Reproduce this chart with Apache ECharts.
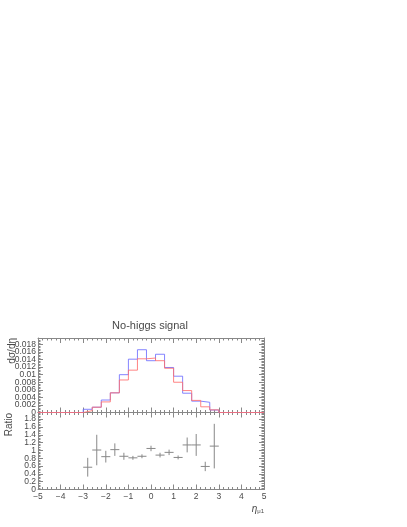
<!DOCTYPE html>
<html>
<head>
<meta charset="utf-8">
<script src="https://cdn.jsdelivr.net/npm/echarts@6/dist/echarts.min.js"></script>
<style>html,body{margin:0;padding:0;background:#fff;}#c{width:407px;height:527px;}</style>
</head>
<body>
<div id="c"></div>
<script>
// ---- data ----
const binEdges = [-5.0,-4.6,-4.2,-3.8,-3.4,-3.0,-2.6,-2.2,-1.8,-1.4,-1.0,-0.6,-0.2,0.2,0.6,1.0,1.4,1.8,2.2,2.6,3.0,3.4,3.8,4.2,4.6,5.0];
const blueHist = [0,0,0,0,0, 0.00085,0.0014,0.0033,0.0052,0.0100,0.0141,0.0166,0.0137,0.0154,0.0119,0.0096,0.0051,0.0030,0.0027,0.00066, 0,0,0,0,0];
const redHist  = [0,0,0,0,0, 0.00048,0.0014,0.0028,0.0052,0.0086,0.0112,0.0142,0.0144,0.0137,0.0117,0.0080,0.0058,0.0032,0.0015,0.00070, 0,0,0,0,0];
const ratioX   = [-2.8,-2.4,-2.0,-1.6,-1.2,-0.8,-0.4,0.0,0.4,0.8,1.2,1.6,2.0,2.4,2.8];
const ratioY   = [0.57,1.01,0.84,1.02,0.85,0.81,0.85,1.05,0.88,0.95,0.82,1.14,1.14,0.59,1.11];
const ratioErr = [0.24,0.39,0.15,0.16,0.09,0.05,0.05,0.07,0.06,0.07,0.05,0.19,0.28,0.12,0.57];
const titleText = 'No-higgs signal';

// ---- build ----
function stepData(vals){
  const d=[];
  for(let i=0;i<vals.length;i++) d.push([binEdges[i], vals[i]]);
  d.push([binEdges[binEdges.length-1], vals[vals.length-1]]);
  return d;
}
const halfW = (binEdges[1]-binEdges[0])/2;
const ratioData = ratioX.map((x,i)=>[x, ratioY[i], ratioErr[i]]);

const FONT = 'Liberation Sans';
const TXT = '#4a4a4a';
const AX = '#888';
const fmt = v => String(parseFloat((+v).toFixed(6))).replace('-', '\u2212');

function xAx(grid, pos, showLabel){
  return {
    type:'value', gridIndex:grid, position:pos, min:-5, max:5, interval:1,
    axisLine:{show:true, onZero:false, lineStyle:{color:AX, width:1}},
    axisTick:{show:true, inside:true, length:5, lineStyle:{color:AX}},
    minorTick:{show:true, splitNumber:5, length:2.5, lineStyle:{color:AX}},
    axisLabel:{show:showLabel, margin:3, fontSize:8.5, color:TXT, fontFamily:FONT, formatter:fmt, hideOverlap:false},
    splitLine:{show:false}, minorSplitLine:{show:false}
  };
}
function yAx(grid, pos, max, interval, showLabel){
  return {
    type:'value', gridIndex:grid, position:pos, min:0, max:max, interval:interval,
    axisLine:{show:true, onZero:false, lineStyle:{color:AX, width:1}},
    axisTick:{show:true, inside:true, length:5, lineStyle:{color:AX}},
    minorTick:{show:true, splitNumber:5, length:2.5, lineStyle:{color:AX}},
    axisLabel:{show:showLabel, margin:2, fontSize:8.5, color:TXT, fontFamily:FONT, formatter:fmt,
               showMaxLabel:false, showMinLabel:false, hideOverlap:false},
    splitLine:{show:false}, minorSplitLine:{show:false}
  };
}
// label-only axis carrying the "0" label at the panel bottom
function yZero(grid, max, interval){
  return {
    type:'value', gridIndex:grid, position:'left', min:0, max:max, interval:interval,
    axisLine:{show:false}, axisTick:{show:false}, minorTick:{show:false},
    axisLabel:{show:true, margin:2, fontSize:8.5, color:TXT, fontFamily:FONT, formatter:fmt,
               customValues:[0], showMinLabel:true, showMaxLabel:true, hideOverlap:false},
    splitLine:{show:false}, minorSplitLine:{show:false}
  };
}

const chart = echarts.init(document.getElementById('c'), null, {renderer:'canvas'});
chart.setOption({
  animation:false,
  backgroundColor:'#fff',
  grid:[
    {left:38, width:226, top:338, height:74.5},
    {left:38, width:226, top:412.5, height:77}
  ],
  xAxis:[ xAx(0,'bottom',false), xAx(0,'top',false), xAx(1,'bottom',true), xAx(1,'top',false) ],
  yAxis:[ yAx(0,'left',0.0197,0.002,true), yAx(0,'right',0.0197,0.002,false), yZero(0,0.0197,0.002),
          yAx(1,'left',1.97,0.2,true), yAx(1,'right',1.97,0.2,false), yZero(1,1.97,0.2) ],
  series:[
    {type:'line', xAxisIndex:0, yAxisIndex:0, step:'end', data:stepData(blueHist), showSymbol:false,
     lineStyle:{color:'#6e6eff', width:1, opacity:0.85}, silent:true},
    {type:'line', xAxisIndex:0, yAxisIndex:0, step:'end', data:stepData(redHist), showSymbol:false,
     lineStyle:{color:'#ff6e6e', width:1, opacity:0.85}, silent:true},
    {type:'custom', xAxisIndex:2, yAxisIndex:3, data:ratioData, silent:true,
     renderItem:function(params, api){
       const x=api.value(0), y=api.value(1), e=api.value(2);
       const a=api.coord([x-halfW,y]), b=api.coord([x+halfW,y]);
       const c=api.coord([x,y-e]), d=api.coord([x,y+e]);
       const st={stroke:'#888', lineWidth:1};
       return {type:'group', children:[
         {type:'line', shape:{x1:a[0],y1:a[1],x2:b[0],y2:b[1]}, style:st},
         {type:'line', shape:{x1:c[0],y1:c[1],x2:d[0],y2:d[1]}, style:st}
       ]};
     }}
  ],
  graphic:[
    {type:'text', x:150, y:326, style:{text:titleText, fontSize:11, fill:TXT, fontFamily:FONT, align:'center', verticalAlign:'middle'}},
    {type:'text', x:12, y:338, rotation:Math.PI/2, style:{text:'dσ/dη', fontSize:10, fill:TXT, fontFamily:FONT, align:'right', verticalAlign:'middle'}},
    {type:'text', x:9, y:413, rotation:Math.PI/2, style:{text:'Ratio', fontSize:10, fill:TXT, fontFamily:FONT, align:'right', verticalAlign:'middle'}},
    {type:'text', x:264, y:509, style:{text:'{a|η}{b|μ1}', align:'right', verticalAlign:'middle',
      rich:{a:{fontSize:10, fill:TXT, fontFamily:FONT, fontStyle:'italic'}, b:{fontSize:6, fill:TXT, fontFamily:FONT, padding:[5,0,0,0]}}}}
  ]
});
</script>
</body>
</html>
